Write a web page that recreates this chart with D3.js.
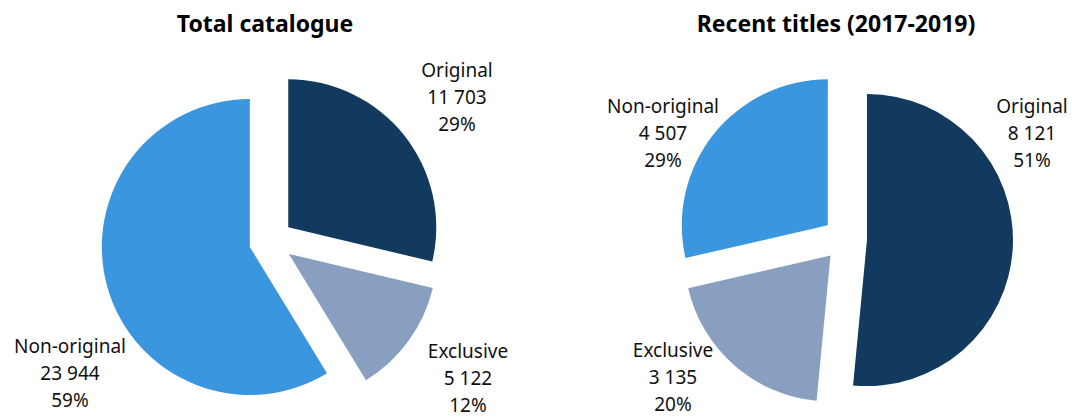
<!DOCTYPE html>
<html>
<head>
<meta charset="utf-8">
<script src="https://cdn.jsdelivr.net/npm/d3@7"></script>
<style>
  body { margin: 0; background: #fff; }
  svg { display: block; font-family: "Noto Sans", sans-serif; }
</style>
</head>
<body>
<svg width="1072" height="418"></svg>
<script>
// slice order runs clockwise from 12 o'clock
var categories = ["Original", "Exclusive", "Non-original"];
var totalValues = [11703, 5122, 23944];
var totalPercents = ["29%", "12%", "59%"];
var recentValues = [8121, 3135, 4507];
var recentPercents = ["51%", "20%", "29%"];
var titles = ["Total catalogue", "Recent titles (2017-2019)"];

var colors = d3.scaleOrdinal()
    .domain(categories)
    .range(["#12395e", "#889fbf", "#3a96df"]);

var fmt = function(v) { return d3.format(",")(v).replace(/,/g, " "); };

var svg = d3.select("svg");

// label spots (middle line) are placed by hand, as in the source chart
var pies = [
    { title: titles[0], titleX: 265, cx: 271, cy: 241, r: 148,
      values: totalValues, percents: totalPercents,
      labels: [[457, 104], [468, 385], [70, 380]] },
    { title: titles[1], titleX: 836, cx: 845, cy: 239, r: 146,
      values: recentValues, percents: recentPercents,
      labels: [[1032, 140], [673, 384], [663, 140]] }
];

var explode = 22;

var pie = d3.pie().sort(null).value(function(d) { return d.value; });

pies.forEach(function(p) {
    var data = categories.map(function(c, i) {
        return { name: c, value: p.values[i], pct: p.percents[i], lab: p.labels[i] };
    });
    var arc = d3.arc().innerRadius(0).outerRadius(p.r);

    svg.append("text")
        .attr("x", p.titleX)
        .attr("y", 32)
        .attr("text-anchor", "middle")
        .attr("font-weight", "bold")
        .attr("font-size", 23)
        .attr("fill", "#000")
        .text(p.title);

    var g = svg.append("g")
        .attr("transform", "translate(" + p.cx + "," + p.cy + ")");

    g.selectAll("path")
        .data(pie(data))
        .enter().append("path")
            .attr("d", arc)
            .attr("fill", function(d) { return colors(d.data.name); })
            .attr("transform", function(d) {
                var a = (d.startAngle + d.endAngle) / 2;
                return "translate(" + (Math.sin(a) * explode) + "," + (-Math.cos(a) * explode) + ")";
            });

    data.forEach(function(d) {
        var t = svg.append("text")
            .attr("text-anchor", "middle")
            .attr("font-size", 19)
            .attr("fill", "#111");
        [d.name, fmt(d.value), d.pct].forEach(function(line, i) {
            t.append("tspan")
                .attr("x", d.lab[0])
                .attr("y", d.lab[1] + (i - 1) * 27)
                .text(line);
        });
    });
});
</script>
</body>
</html>
